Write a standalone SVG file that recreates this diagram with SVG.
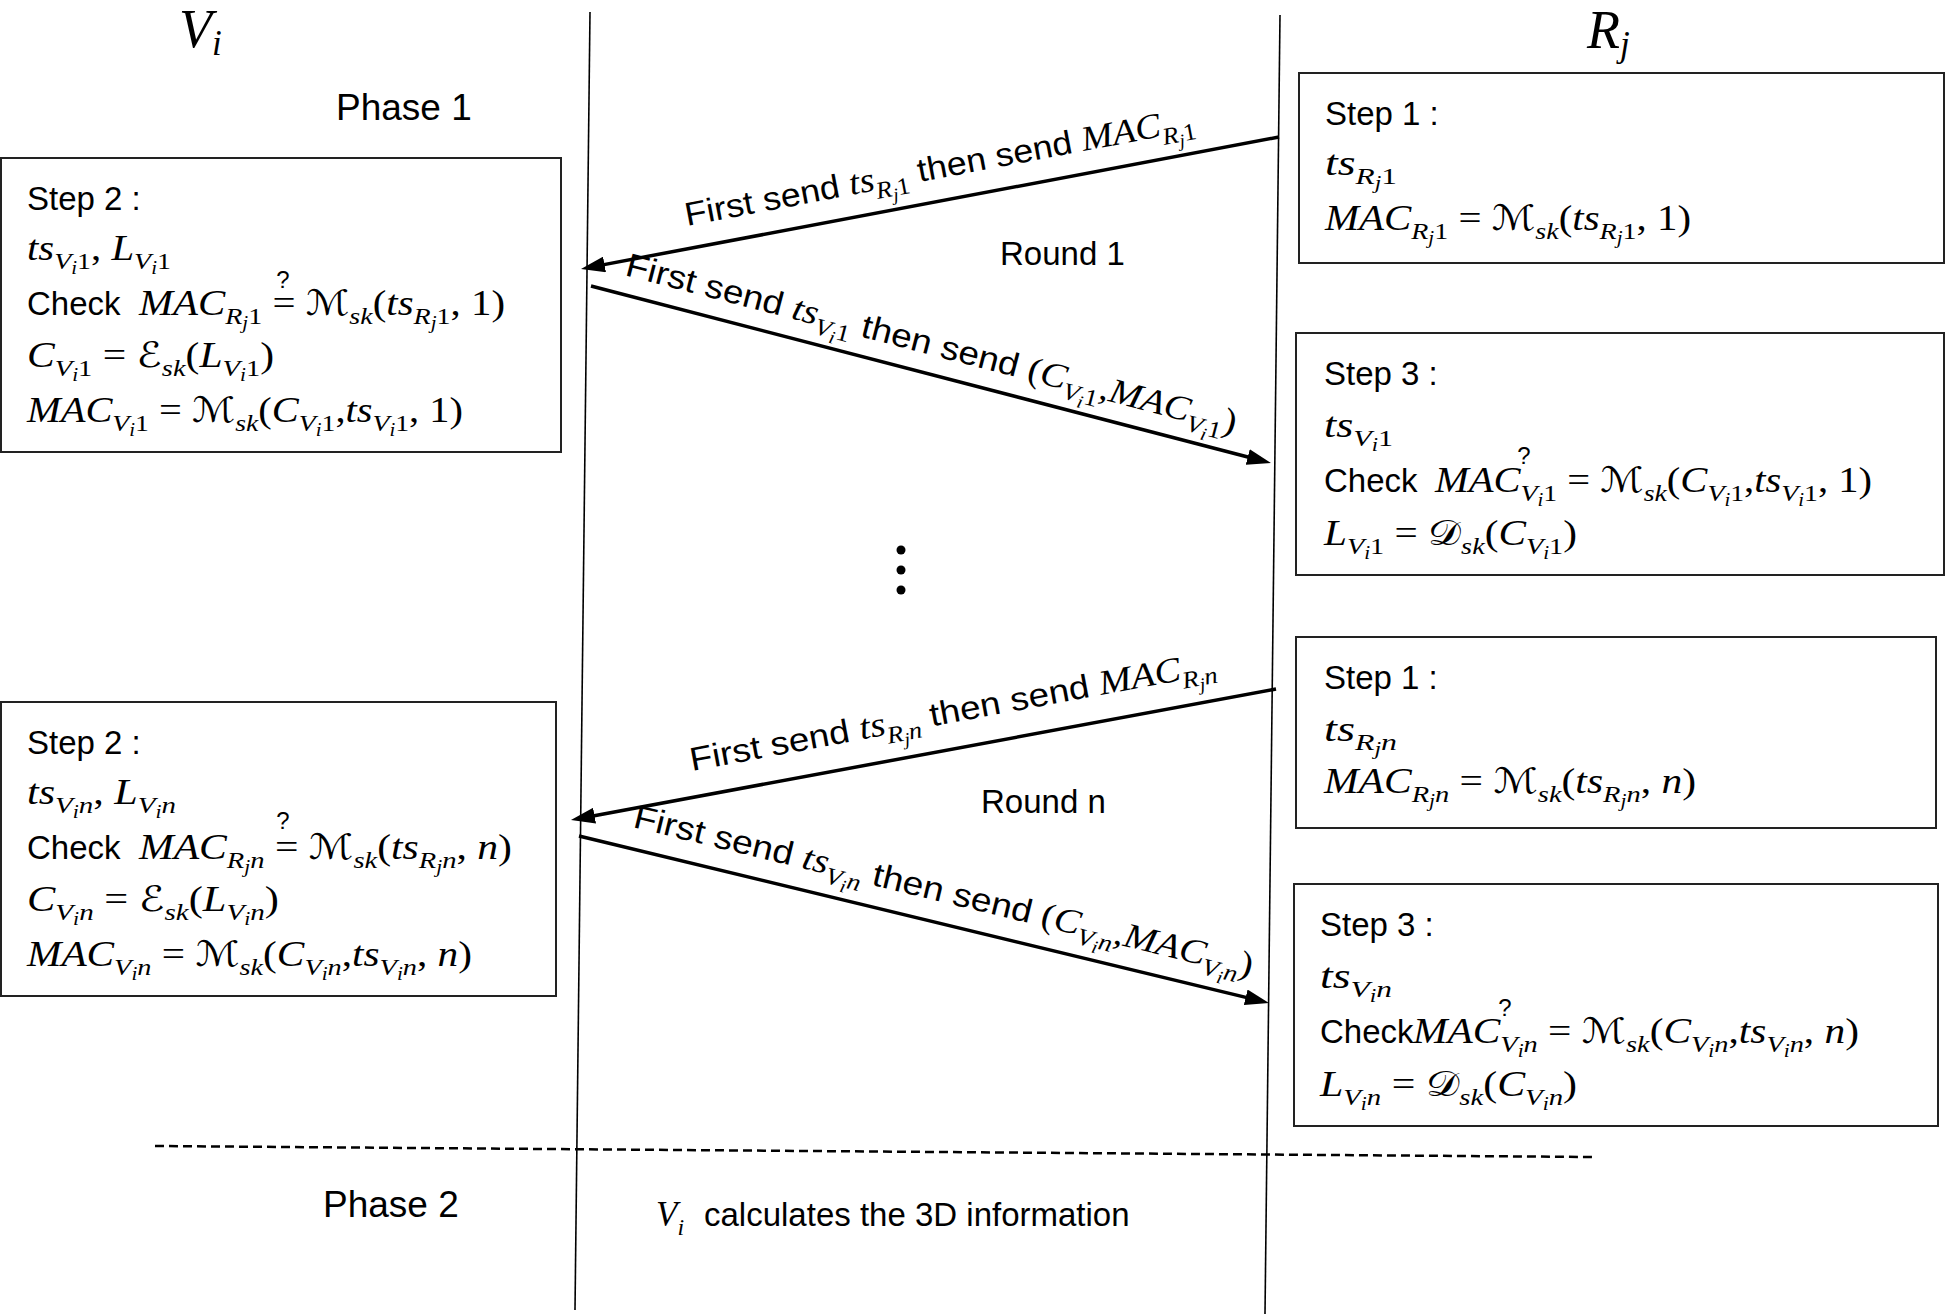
<svg xmlns="http://www.w3.org/2000/svg" width="1947" height="1315" viewBox="0 0 1947 1315">
<style>
.t{font-family:"Liberation Sans",Arial,sans-serif;font-size:33px;fill:#000}
.big{font-family:"Liberation Sans",Arial,sans-serif;font-size:37px;fill:#000}
.m{font-family:"Liberation Serif","DejaVu Serif",serif;font-style:italic;font-size:35px;fill:#000}
.s{font-family:"Liberation Serif","DejaVu Serif",serif;font-style:italic;font-size:24px}
.ss{font-family:"Liberation Serif","DejaVu Serif",serif;font-style:italic;font-size:18px}
.u{font-style:normal}
.scr{font-family:"DejaVu Serif","DejaVu Sans",serif;font-style:normal}
.q{font-family:"Liberation Sans",Arial,sans-serif;font-size:24px;text-anchor:middle}
.hd{font-family:"Liberation Serif",serif;font-style:italic;font-size:54px}
.box{fill:none;stroke:#222;stroke-width:2}
.life{stroke:#000;stroke-width:1.6;fill:none}
.arr{stroke:#000;stroke-width:3.5;fill:none;marker-end:url(#ah)}
.dash{stroke:#000;stroke-width:2.5;stroke-dasharray:9 5;fill:none}
</style>
<defs>
<marker id="ah" viewBox="0 0 24 16" markerWidth="24" markerHeight="16" refX="14" refY="8" orient="auto" markerUnits="userSpaceOnUse">
<path d="M0,0 L24,8 L0,16 z" fill="#000"/>
</marker>
</defs>
<rect width="1947" height="1315" fill="#fff"/>

<g id="lifelines">
<line class="life" x1="590" y1="12" x2="575" y2="1310"/>
<line class="life" x1="1280" y1="15" x2="1265" y2="1314"/>
<line class="dash" x1="155" y1="1146" x2="1593" y2="1157"/>
</g>

<g id="headers">
<text class="hd" x="179" y="47">V<tspan font-size="35" dy="8">i</tspan></text>
<text class="hd" x="1587" y="48">R<tspan font-size="35" dy="8">j</tspan></text>
<text class="big" x="336" y="120">Phase 1</text>
<text class="big" x="323" y="1217" font-size="36">Phase 2</text>
<text class="t" x="1000" y="265">Round 1</text>
<text class="t" x="981" y="813">Round n</text>
<circle cx="901" cy="550" r="4.5"/>
<circle cx="901" cy="570" r="4.5"/>
<circle cx="901" cy="590" r="4.5"/>
<text class="m" x="656" y="1226">V<tspan class="s" dy="9">i</tspan></text>
<text class="t" x="704" y="1226" font-size="35">calculates the 3D information</text>
</g>

<g id="box-r1">
<rect class="box" x="1299" y="73" width="645" height="190"/>
<text class="t" x="1325" y="125">Step 1 :</text>
<text class="m" x="1325" y="175" textLength="72" lengthAdjust="spacingAndGlyphs">ts<tspan class="s" dy="9">R</tspan><tspan class="ss" dy="5">j</tspan><tspan class="s u" dy="-5">1</tspan></text>
<text class="m" x="1325" y="230" textLength="366" lengthAdjust="spacingAndGlyphs">MAC<tspan class="s" dy="9">R</tspan><tspan class="ss" dy="5">j</tspan><tspan class="s u" dy="-5">1</tspan><tspan class="u" dy="-9"> = </tspan><tspan class="scr">ℳ</tspan><tspan class="s" dy="9">sk</tspan><tspan class="u" dy="-9">(</tspan><tspan>ts</tspan><tspan class="s" dy="9">R</tspan><tspan class="ss" dy="5">j</tspan><tspan class="s u" dy="-5">1</tspan><tspan class="u" dy="-9">, 1)</tspan></text>
</g>

<g id="box-l1">
<rect class="box" x="1" y="158" width="560" height="294"/>
<text class="t" x="27" y="210">Step 2 :</text>
<text class="m" x="27" y="260" textLength="144" lengthAdjust="spacingAndGlyphs">ts<tspan class="s" dy="9">V</tspan><tspan class="ss" dy="5">i</tspan><tspan class="s u" dy="-5">1</tspan><tspan class="u" dy="-9">, </tspan><tspan>L</tspan><tspan class="s" dy="9">V</tspan><tspan class="ss" dy="5">i</tspan><tspan class="s u" dy="-5">1</tspan></text>
<text class="t" x="27" y="315">Check</text>
<text class="m" x="139" y="315" textLength="366" lengthAdjust="spacingAndGlyphs">MAC<tspan class="s" dy="9">R</tspan><tspan class="ss" dy="5">j</tspan><tspan class="s u" dy="-5">1</tspan><tspan class="u" dy="-9"> = </tspan><tspan class="scr">ℳ</tspan><tspan class="s" dy="9">sk</tspan><tspan class="u" dy="-9">(</tspan><tspan>ts</tspan><tspan class="s" dy="9">R</tspan><tspan class="ss" dy="5">j</tspan><tspan class="s u" dy="-5">1</tspan><tspan class="u" dy="-9">, 1)</tspan></text>
<text class="q" x="283" y="288">?</text>
<text class="m" x="27" y="367" textLength="247" lengthAdjust="spacingAndGlyphs">C<tspan class="s" dy="9">V</tspan><tspan class="ss" dy="5">i</tspan><tspan class="s u" dy="-5">1</tspan><tspan class="u" dy="-9"> = </tspan><tspan class="scr">ℰ</tspan><tspan class="s" dy="9">sk</tspan><tspan class="u" dy="-9">(</tspan><tspan>L</tspan><tspan class="s" dy="9">V</tspan><tspan class="ss" dy="5">i</tspan><tspan class="s u" dy="-5">1</tspan><tspan class="u" dy="-9">)</tspan></text>
<text class="m" x="27" y="422" textLength="436" lengthAdjust="spacingAndGlyphs">MAC<tspan class="s" dy="9">V</tspan><tspan class="ss" dy="5">i</tspan><tspan class="s u" dy="-5">1</tspan><tspan class="u" dy="-9"> = </tspan><tspan class="scr">ℳ</tspan><tspan class="s" dy="9">sk</tspan><tspan class="u" dy="-9">(</tspan><tspan>C</tspan><tspan class="s" dy="9">V</tspan><tspan class="ss" dy="5">i</tspan><tspan class="s u" dy="-5">1</tspan><tspan class="u" dy="-9">,</tspan><tspan>ts</tspan><tspan class="s" dy="9">V</tspan><tspan class="ss" dy="5">i</tspan><tspan class="s u" dy="-5">1</tspan><tspan class="u" dy="-9">, 1)</tspan></text>
</g>

<g id="box-r2">
<rect class="box" x="1296" y="333" width="648" height="242"/>
<text class="t" x="1324" y="385">Step 3 :</text>
<text class="m" x="1324" y="437" textLength="69" lengthAdjust="spacingAndGlyphs">ts<tspan class="s" dy="9">V</tspan><tspan class="ss" dy="5">i</tspan><tspan class="s u" dy="-5">1</tspan></text>
<text class="t" x="1324" y="492">Check</text>
<text class="m" x="1435" y="492" textLength="437" lengthAdjust="spacingAndGlyphs">MAC<tspan class="s" dy="9">V</tspan><tspan class="ss" dy="5">i</tspan><tspan class="s u" dy="-5">1</tspan><tspan class="u" dy="-9"> = </tspan><tspan class="scr">ℳ</tspan><tspan class="s" dy="9">sk</tspan><tspan class="u" dy="-9">(</tspan><tspan>C</tspan><tspan class="s" dy="9">V</tspan><tspan class="ss" dy="5">i</tspan><tspan class="s u" dy="-5">1</tspan><tspan class="u" dy="-9">,</tspan><tspan>ts</tspan><tspan class="s" dy="9">V</tspan><tspan class="ss" dy="5">i</tspan><tspan class="s u" dy="-5">1</tspan><tspan class="u" dy="-9">, 1)</tspan></text>
<text class="q" x="1524" y="464">?</text>
<text class="m" x="1324" y="545" textLength="253" lengthAdjust="spacingAndGlyphs">L<tspan class="s" dy="9">V</tspan><tspan class="ss" dy="5">i</tspan><tspan class="s u" dy="-5">1</tspan><tspan class="u" dy="-9"> = </tspan><tspan class="scr">𝒟</tspan><tspan class="s" dy="9">sk</tspan><tspan class="u" dy="-9">(</tspan><tspan>C</tspan><tspan class="s" dy="9">V</tspan><tspan class="ss" dy="5">i</tspan><tspan class="s u" dy="-5">1</tspan><tspan class="u" dy="-9">)</tspan></text>
</g>

<g id="box-rn1">
<rect class="box" x="1296" y="637" width="640" height="191"/>
<text class="t" x="1324" y="689">Step 1 :</text>
<text class="m" x="1324" y="741" textLength="73" lengthAdjust="spacingAndGlyphs">ts<tspan class="s" dy="9">R</tspan><tspan class="ss" dy="5">j</tspan><tspan class="s" dy="-5">n</tspan></text>
<text class="m" x="1324" y="793" textLength="372" lengthAdjust="spacingAndGlyphs">MAC<tspan class="s" dy="9">R</tspan><tspan class="ss" dy="5">j</tspan><tspan class="s" dy="-5">n</tspan><tspan class="u" dy="-9"> = </tspan><tspan class="scr">ℳ</tspan><tspan class="s" dy="9">sk</tspan><tspan class="u" dy="-9">(</tspan><tspan>ts</tspan><tspan class="s" dy="9">R</tspan><tspan class="ss" dy="5">j</tspan><tspan class="s" dy="-5">n</tspan><tspan class="u" dy="-9">, </tspan><tspan>n</tspan><tspan class="u">)</tspan></text>
</g>

<g id="box-l2">
<rect class="box" x="1" y="702" width="555" height="294"/>
<text class="t" x="27" y="754">Step 2 :</text>
<text class="m" x="27" y="804" textLength="149" lengthAdjust="spacingAndGlyphs">ts<tspan class="s" dy="9">V</tspan><tspan class="ss" dy="5">i</tspan><tspan class="s" dy="-5">n</tspan><tspan class="u" dy="-9">, </tspan><tspan>L</tspan><tspan class="s" dy="9">V</tspan><tspan class="ss" dy="5">i</tspan><tspan class="s" dy="-5">n</tspan></text>
<text class="t" x="27" y="859">Check</text>
<text class="m" x="139" y="859" textLength="373" lengthAdjust="spacingAndGlyphs">MAC<tspan class="s" dy="9">R</tspan><tspan class="ss" dy="5">j</tspan><tspan class="s" dy="-5">n</tspan><tspan class="u" dy="-9"> = </tspan><tspan class="scr">ℳ</tspan><tspan class="s" dy="9">sk</tspan><tspan class="u" dy="-9">(</tspan><tspan>ts</tspan><tspan class="s" dy="9">R</tspan><tspan class="ss" dy="5">j</tspan><tspan class="s" dy="-5">n</tspan><tspan class="u" dy="-9">, </tspan><tspan>n</tspan><tspan class="u">)</tspan></text>
<text class="q" x="283" y="829">?</text>
<text class="m" x="27" y="911" textLength="252" lengthAdjust="spacingAndGlyphs">C<tspan class="s" dy="9">V</tspan><tspan class="ss" dy="5">i</tspan><tspan class="s" dy="-5">n</tspan><tspan class="u" dy="-9"> = </tspan><tspan class="scr">ℰ</tspan><tspan class="s" dy="9">sk</tspan><tspan class="u" dy="-9">(</tspan><tspan>L</tspan><tspan class="s" dy="9">V</tspan><tspan class="ss" dy="5">i</tspan><tspan class="s" dy="-5">n</tspan><tspan class="u" dy="-9">)</tspan></text>
<text class="m" x="27" y="966" textLength="445" lengthAdjust="spacingAndGlyphs">MAC<tspan class="s" dy="9">V</tspan><tspan class="ss" dy="5">i</tspan><tspan class="s" dy="-5">n</tspan><tspan class="u" dy="-9"> = </tspan><tspan class="scr">ℳ</tspan><tspan class="s" dy="9">sk</tspan><tspan class="u" dy="-9">(</tspan><tspan>C</tspan><tspan class="s" dy="9">V</tspan><tspan class="ss" dy="5">i</tspan><tspan class="s" dy="-5">n</tspan><tspan class="u" dy="-9">,</tspan><tspan>ts</tspan><tspan class="s" dy="9">V</tspan><tspan class="ss" dy="5">i</tspan><tspan class="s" dy="-5">n</tspan><tspan class="u" dy="-9">, </tspan><tspan>n</tspan><tspan class="u">)</tspan></text>
</g>

<g id="box-rn2">
<rect class="box" x="1294" y="884" width="644" height="242"/>
<text class="t" x="1320" y="936">Step 3 :</text>
<text class="m" x="1320" y="988" textLength="72" lengthAdjust="spacingAndGlyphs">ts<tspan class="s" dy="9">V</tspan><tspan class="ss" dy="5">i</tspan><tspan class="s" dy="-5">n</tspan></text>
<text class="t" x="1320" y="1043">Check</text>
<text class="m" x="1413" y="1043" textLength="446" lengthAdjust="spacingAndGlyphs">MAC<tspan class="s" dy="9">V</tspan><tspan class="ss" dy="5">i</tspan><tspan class="s" dy="-5">n</tspan><tspan class="u" dy="-9"> = </tspan><tspan class="scr">ℳ</tspan><tspan class="s" dy="9">sk</tspan><tspan class="u" dy="-9">(</tspan><tspan>C</tspan><tspan class="s" dy="9">V</tspan><tspan class="ss" dy="5">i</tspan><tspan class="s" dy="-5">n</tspan><tspan class="u" dy="-9">,</tspan><tspan>ts</tspan><tspan class="s" dy="9">V</tspan><tspan class="ss" dy="5">i</tspan><tspan class="s" dy="-5">n</tspan><tspan class="u" dy="-9">, </tspan><tspan>n</tspan><tspan class="u">)</tspan></text>
<text class="q" x="1505" y="1016">?</text>
<text class="m" x="1320" y="1096" textLength="257" lengthAdjust="spacingAndGlyphs">L<tspan class="s" dy="9">V</tspan><tspan class="ss" dy="5">i</tspan><tspan class="s" dy="-5">n</tspan><tspan class="u" dy="-9"> = </tspan><tspan class="scr">𝒟</tspan><tspan class="s" dy="9">sk</tspan><tspan class="u" dy="-9">(</tspan><tspan>C</tspan><tspan class="s" dy="9">V</tspan><tspan class="ss" dy="5">i</tspan><tspan class="s" dy="-5">n</tspan><tspan class="u" dy="-9">)</tspan></text>
</g>

<g id="connectors">
<line class="arr" x1="1279" y1="137" x2="590.8" y2="267.1"/>
<line class="arr" x1="591" y1="286" x2="1261.3" y2="460.5"/>
<line class="arr" x1="1276" y1="689" x2="580.8" y2="818.2"/>
<line class="arr" x1="579" y1="836" x2="1259.3" y2="1000.6"/>
<text class="t" x="687" y="226" transform="rotate(-10.71 687 226)" textLength="518" lengthAdjust="spacingAndGlyphs">First send  <tspan class="m">ts</tspan><tspan class="s" dy="9">R</tspan><tspan class="ss" dy="5">j</tspan><tspan class="s u" dy="-5">1</tspan><tspan dy="-9">  then send  </tspan><tspan class="m">MAC</tspan><tspan class="s" dy="9">R</tspan><tspan class="ss" dy="5">j</tspan><tspan class="s u" dy="-5">1</tspan></text>
<text class="t" x="624" y="275" transform="rotate(14.59 624 275)" textLength="630" lengthAdjust="spacingAndGlyphs">First send  <tspan class="m">ts</tspan><tspan class="s" dy="9">V</tspan><tspan class="ss" dy="5">i</tspan><tspan class="s u" dy="-5">1</tspan><tspan dy="-9">  then send  </tspan><tspan class="m u">(</tspan><tspan class="m">C</tspan><tspan class="s" dy="9">V</tspan><tspan class="ss" dy="5">i</tspan><tspan class="s u" dy="-5">1</tspan><tspan class="m u" dy="-9">,</tspan><tspan class="m">MAC</tspan><tspan class="s" dy="9">V</tspan><tspan class="ss" dy="5">i</tspan><tspan class="s u" dy="-5">1</tspan><tspan class="m u" dy="-9">)</tspan></text>
<text class="t" x="692" y="771" transform="rotate(-10.53 692 771)" textLength="534" lengthAdjust="spacingAndGlyphs">First send  <tspan class="m">ts</tspan><tspan class="s" dy="9">R</tspan><tspan class="ss" dy="5">j</tspan><tspan class="s" dy="-5">n</tspan><tspan dy="-9">  then send  </tspan><tspan class="m">MAC</tspan><tspan class="s" dy="9">R</tspan><tspan class="ss" dy="5">j</tspan><tspan class="s" dy="-5">n</tspan></text>
<text class="t" x="632" y="827" transform="rotate(13.6 632 827)" textLength="636" lengthAdjust="spacingAndGlyphs">First send  <tspan class="m">ts</tspan><tspan class="s" dy="9">V</tspan><tspan class="ss" dy="5">i</tspan><tspan class="s" dy="-5">n</tspan><tspan dy="-9">  then send  </tspan><tspan class="m u">(</tspan><tspan class="m">C</tspan><tspan class="s" dy="9">V</tspan><tspan class="ss" dy="5">i</tspan><tspan class="s" dy="-5">n</tspan><tspan class="m u" dy="-9">,</tspan><tspan class="m">MAC</tspan><tspan class="s" dy="9">V</tspan><tspan class="ss" dy="5">i</tspan><tspan class="s" dy="-5">n</tspan><tspan class="m u" dy="-9">)</tspan></text>
</g>
</svg>
